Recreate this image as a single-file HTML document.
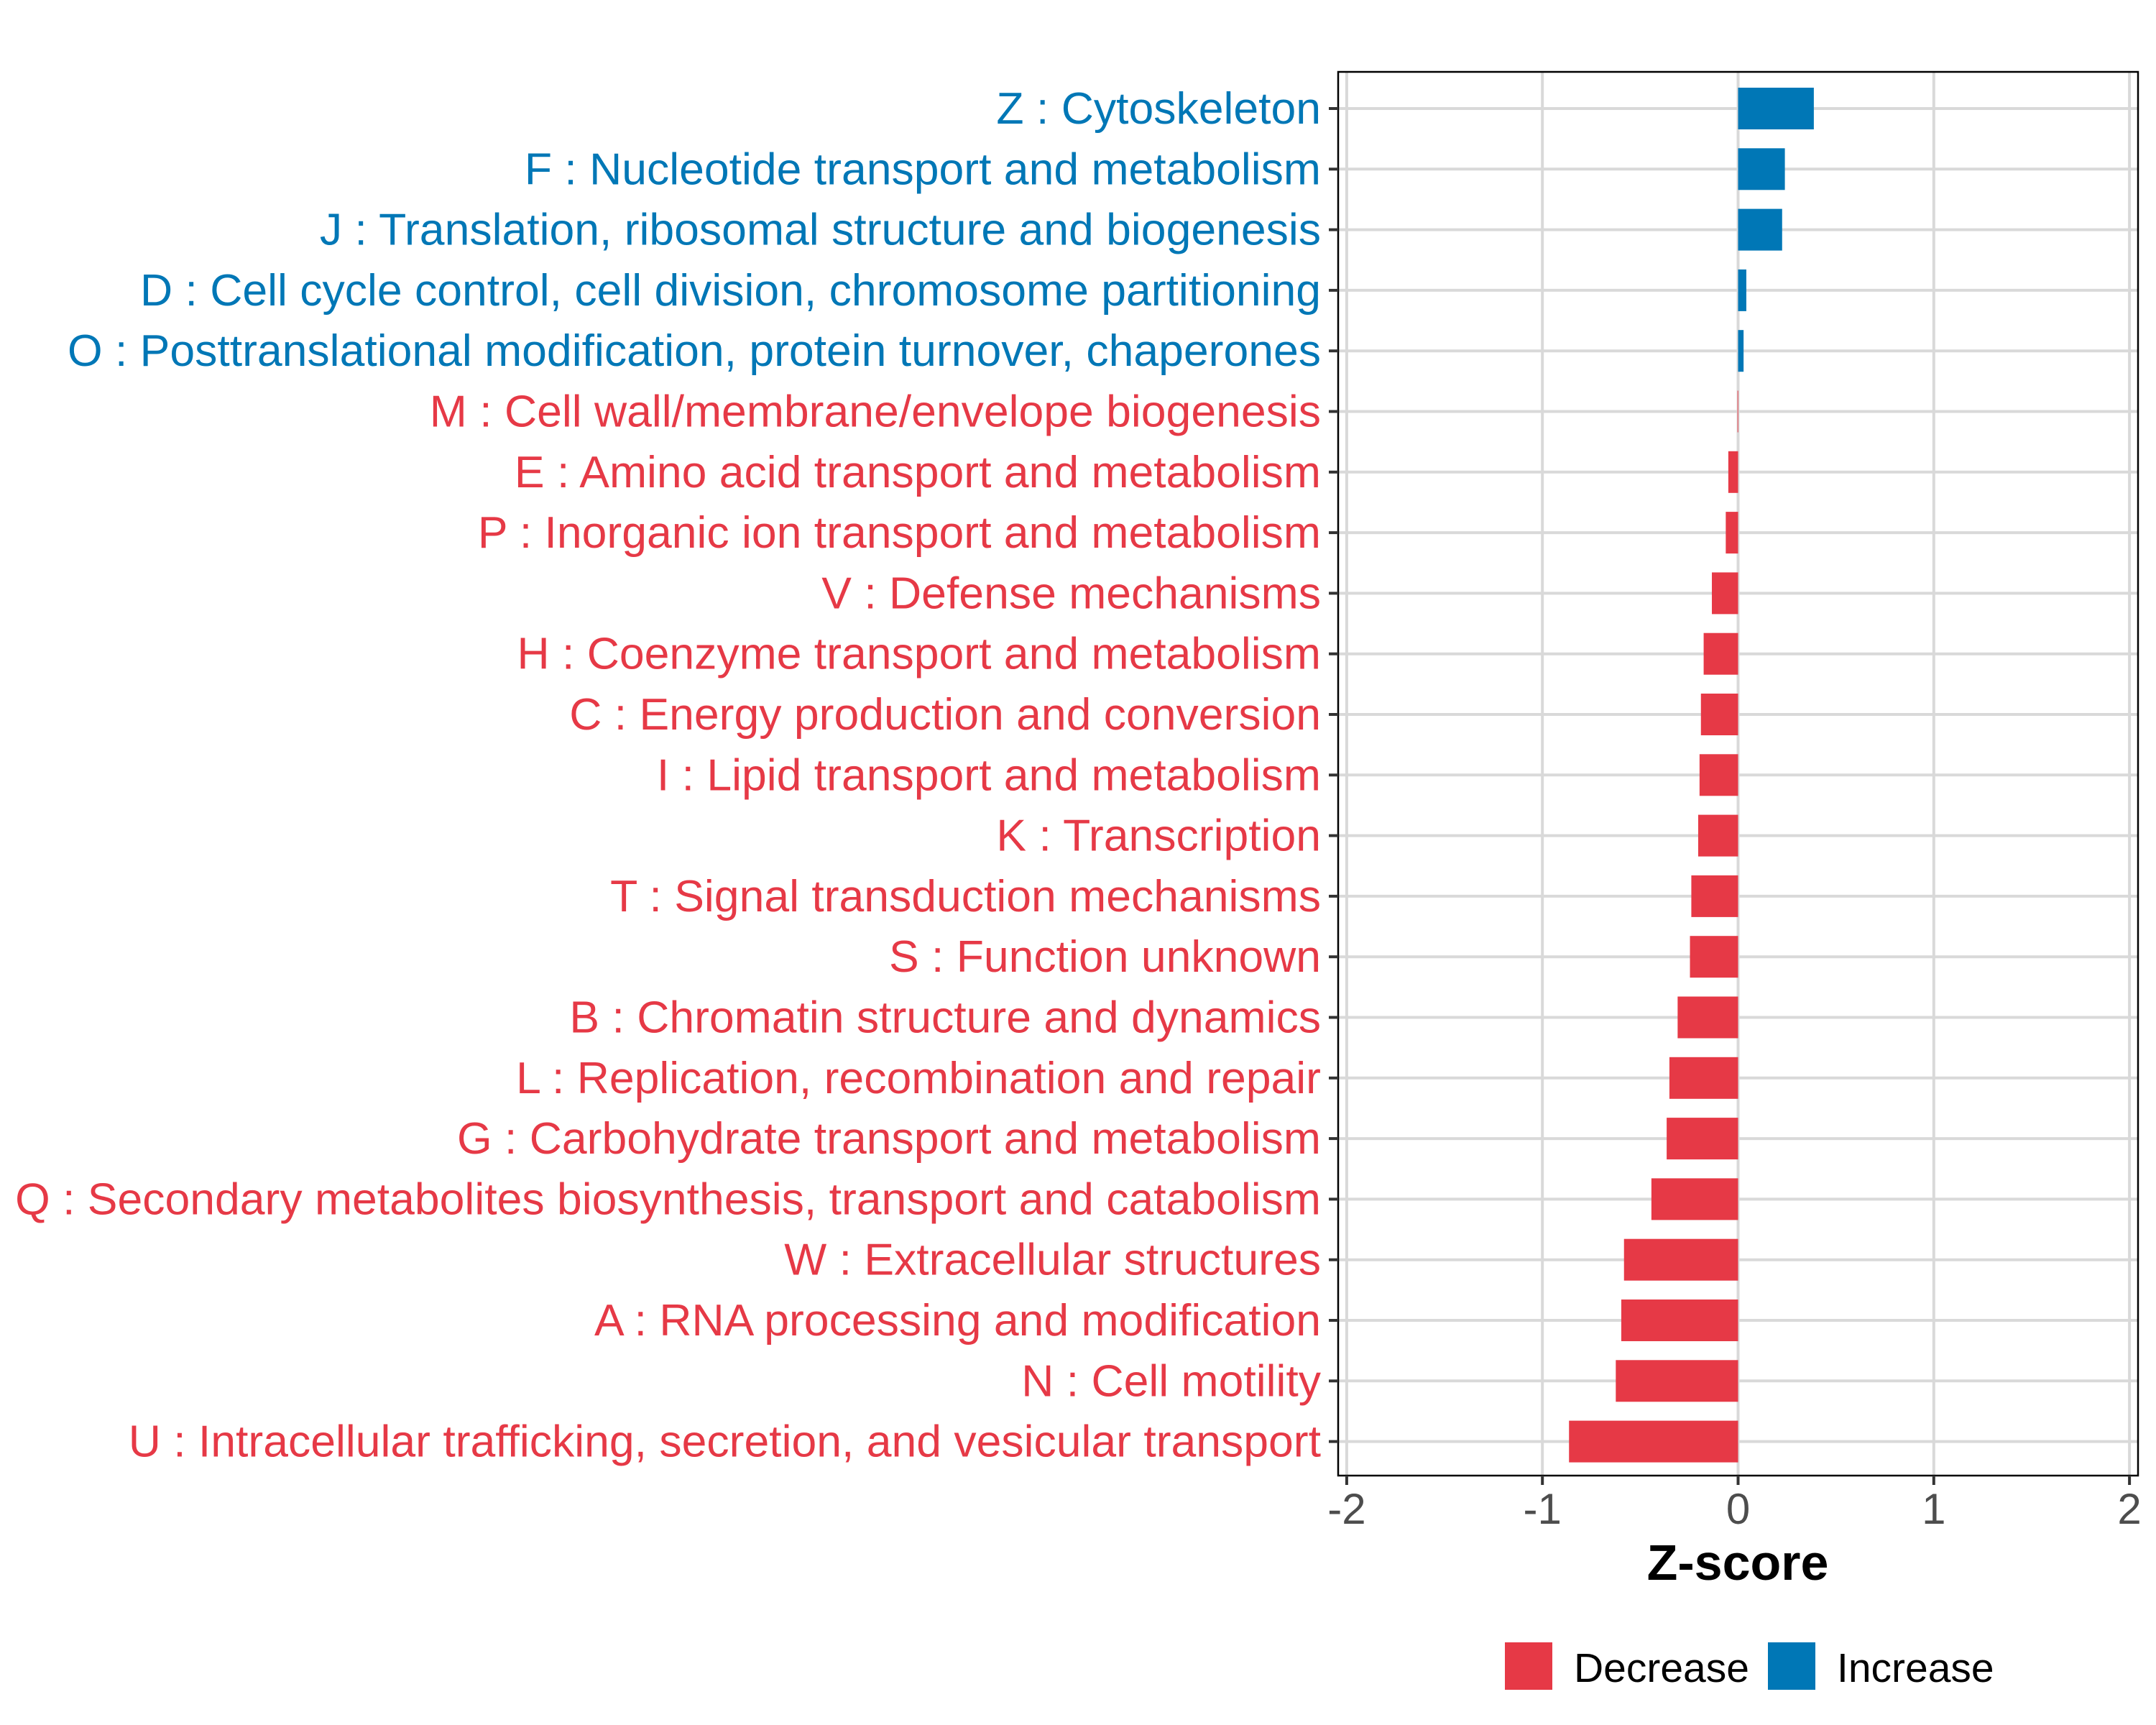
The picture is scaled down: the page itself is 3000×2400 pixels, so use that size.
<!DOCTYPE html>
<html><head><meta charset="utf-8"><style>
html,body{margin:0;padding:0;background:#fff;}
svg{display:block;font-family:"Liberation Sans",Arial,sans-serif;}
</style></head><body>
<svg id="chart" width="3000" height="2400" viewBox="0 0 3000 2400" xmlns="http://www.w3.org/2000/svg">
<rect width="3000" height="2400" fill="#fff"/>
<g id="grid"></g>
<g id="bars"></g>
<rect x="1862" y="100" width="1113" height="1953" fill="none" stroke="#000" stroke-width="2.5"/>
<g id="ylabels"></g>
<g id="xaxis"></g>
<text x="2418" y="2198" font-size="70" font-weight="bold" text-anchor="middle" fill="#000">Z-score</text>
<g>
<rect x="2094" y="2285" width="66" height="66" fill="#E63946"/>
<text x="2190" y="2340" font-size="57" fill="#000">Decrease</text>
<rect x="2460" y="2285" width="66" height="66" fill="#0077B6"/>
<text x="2556" y="2340" font-size="57" fill="#000">Increase</text>
</g>
</svg>
<script>
const categories = [
"Z : Cytoskeleton",
"F : Nucleotide transport and metabolism",
"J : Translation, ribosomal structure and biogenesis",
"D : Cell cycle control, cell division, chromosome partitioning",
"O : Posttranslational modification, protein turnover, chaperones",
"M : Cell wall/membrane/envelope biogenesis",
"E : Amino acid transport and metabolism",
"P : Inorganic ion transport and metabolism",
"V : Defense mechanisms",
"H : Coenzyme transport and metabolism",
"C : Energy production and conversion",
"I : Lipid transport and metabolism",
"K : Transcription",
"T : Signal transduction mechanisms",
"S : Function unknown",
"B : Chromatin structure and dynamics",
"L : Replication, recombination and repair",
"G : Carbohydrate transport and metabolism",
"Q : Secondary metabolites biosynthesis, transport and catabolism",
"W : Extracellular structures",
"A : RNA processing and modification",
"N : Cell motility",
"U : Intracellular trafficking, secretion, and vesicular transport"];
const zscores = [0.387,0.239,0.225,0.042,0.028,-0.003,-0.05,-0.063,-0.134,-0.176,-0.19,-0.197,-0.204,-0.239,-0.246,-0.309,-0.351,-0.365,-0.443,-0.583,-0.597,-0.625,-0.864];
const xTicks = [-2,-1,0,1,2];
const xTickLabels = ["-2","-1","0","1","2"];

const NS="http://www.w3.org/2000/svg";
const X0=2418.5, UNIT=272.3, ROW0=151, STEP=84.3, BARH=58;
const PL=1862, PR=2975, PT=100, PB=2053;
function xs(v){return X0+v*UNIT;}
function ys(i){return ROW0+i*STEP;}
function mk(tag,attrs,parent){const e=document.createElementNS(NS,tag);for(const k in attrs)e.setAttribute(k,attrs[k]);parent.appendChild(e);return e;}
const grid=document.getElementById('grid'),bars=document.getElementById('bars'),yl=document.getElementById('ylabels'),xa=document.getElementById('xaxis');
xTicks.forEach((t,i)=>{
  const g=mk('line',{x1:xs(t),x2:xs(t),y1:PT,y2:PB,stroke:'#d9d9d9','stroke-width':4},grid);
  
  
  const tk=mk('line',{x1:xs(t),x2:xs(t),y1:PB,y2:PB+13,stroke:'#333','stroke-width':4},xa);
  
  
  const tx=mk('text',{x:xs(t),y:2120,'font-size':60,'text-anchor':'middle',fill:'#4d4d4d'},xa);
  
  
  tx.textContent=xTickLabels[i];
});
categories.forEach((c,i)=>{
  const y=ys(i), v=zscores[i], col=v>=0?'#0077B6':'#E63946';
  const g=mk('line',{x1:PL,x2:PR,y1:y,y2:y,stroke:'#d9d9d9','stroke-width':4},grid);
  
  
  const b=mk('rect',{x:Math.min(xs(0),xs(v)),y:y-BARH/2,width:Math.max(Math.abs(xs(v)-xs(0)),1),height:BARH,fill:col},bars);
  
  
  const tk=mk('line',{x1:PL-13,x2:PL,y1:y,y2:y,stroke:'#333','stroke-width':4},yl);
  
  
  const t=mk('text',{x:1838,y:y+21,'font-size':62.5,'text-anchor':'end',fill:col},yl);
  
  
  t.textContent=c;
});
</script>
</body></html>
